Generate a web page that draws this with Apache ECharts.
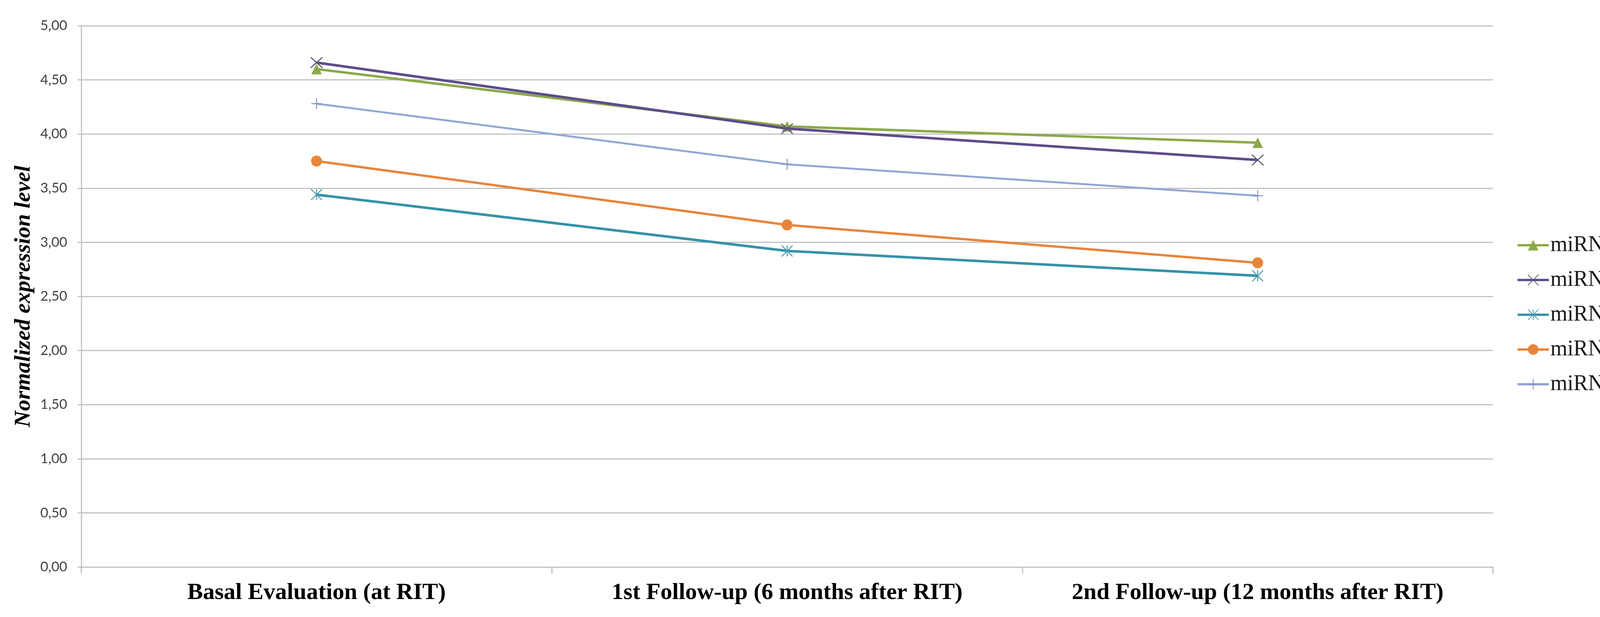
<!DOCTYPE html>
<html>
<head>
<meta charset="utf-8">
<script src="https://cdn.jsdelivr.net/npm/echarts@6/dist/echarts.min.js"></script>
<style>
html,body{margin:0;padding:0;background:#ffffff;}
#chart{width:4311px;height:1580px;}
</style>
</head>
<body>
<div id="chart"></div>
<script>
// ---- data ----
const categories = ['Basal Evaluation (at RIT)', '1st Follow-up (6 months after RIT)', '2nd Follow-up (12 months after RIT)'];
const seriesNames = ['miRNA-221', 'miRNA-222', 'miRNA-375', 'miRNA-155', 'miRNA-146b'];
const mir221 = [4.60, 4.07, 3.92];
const mir222 = [4.66, 4.05, 3.76];
const mir375 = [3.44, 2.92, 2.69];
const mir155 = [3.75, 3.16, 2.81];
const mir146b = [4.28, 3.72, 3.43];
const yMin = 0, yMax = 5, yStep = 0.5;
const yTitle = 'Normalized expression level';

// ---- styles ----
const colors = ['#8BAA4A', '#5E4C8C', '#3592A6', '#E8853A', '#93A7D2'];
const markerBorder = ['#8BAA4A', '#5F5A7C', '#4A9AAE', '#E8853A', '#8396C0'];
const symbols = [
  'triangle',
  'path://M0,0L10,9M10,0L0,9',
  'path://M0,0L10,10M10,0L0,10M5,0L5,10',
  'circle',
  'path://M5,0L5,10M0,5L10,5'
];
const symbolSizes = [[27, 27], [30, 27], [28, 28], 28, [27, 28]];
const strokeWidths = [0, 2.7, 2.5, 0, 2.5];
const lineWidths = [6.5, 6.5, 6.5, 6, 5];
const dataArrays = [mir221, mir222, mir375, mir155, mir146b];

const gridColor = '#C2C2C2';

const series = seriesNames.map((name, i) => ({
  name: name,
  type: 'line',
  data: dataArrays[i],
  symbol: symbols[i],
  symbolSize: symbolSizes[i],
  showSymbol: true,
  color: colors[i],
  lineStyle: { color: colors[i], width: lineWidths[i] },
  itemStyle: {
    color: strokeWidths[i] > 0 ? 'rgba(0,0,0,0)' : colors[i],
    borderColor: markerBorder[i],
    borderWidth: strokeWidths[i]
  },
  z: 2 + i
}));

const chart = echarts.init(document.getElementById('chart'), null, { renderer: 'canvas' });
chart.setOption({
  animation: false,
  backgroundColor: '#ffffff',
  grid: {
    left: 208, right: 4311 - 3822, top: 66, bottom: 1580 - 1452,
    containLabel: false,
    outerBoundsMode: 'none'
  },
  legend: {
    orient: 'vertical',
    left: 3877,
    top: 595,
    itemWidth: 80,
    itemHeight: 34,
    itemGap: 33,
    data: seriesNames,
    lineStyle: { width: 6 },
    textStyle: {
      fontFamily: '"Liberation Serif", "Times New Roman", serif',
      fontSize: 56,
      color: '#1a1a1a',
      padding: [0, 0, 0, -1]
    }
  },
  xAxis: {
    type: 'category',
    data: categories,
    boundaryGap: true,
    axisLine: { show: true, lineStyle: { color: gridColor, width: 3 } },
    axisTick: { show: true, length: 17, alignWithLabel: false, lineStyle: { color: '#A8A8A8', width: 2 } },
    axisLabel: {
      margin: 36,
      interval: 0,
      fontFamily: '"Liberation Serif", "Times New Roman", serif',
      fontWeight: 'bold',
      fontSize: 60,
      color: '#000000'
    },
    splitLine: { show: false }
  },
  yAxis: {
    type: 'value',
    min: yMin,
    max: yMax,
    interval: yStep,
    name: yTitle,
    nameLocation: 'middle',
    nameRotate: 90,
    nameGap: 118,
    nameTextStyle: {
      fontFamily: '"Liberation Serif", "Times New Roman", serif',
      fontWeight: 'bold',
      fontStyle: 'italic',
      fontSize: 58,
      color: '#000000'
    },
    axisLine: { show: true, lineStyle: { color: gridColor, width: 3 } },
    axisTick: { show: true, length: 9, lineStyle: { color: gridColor, width: 3 } },
    axisLabel: {
      margin: 36,
      fontFamily: 'Lato, "Open Sans", sans-serif',
      fontSize: 35,
      color: '#404040',
      formatter: v => v.toFixed(2).replace('.', ',')
    },
    splitLine: { show: true, lineStyle: { color: gridColor, width: 3 } }
  },
  series: series
});
</script>
</body>
</html>
